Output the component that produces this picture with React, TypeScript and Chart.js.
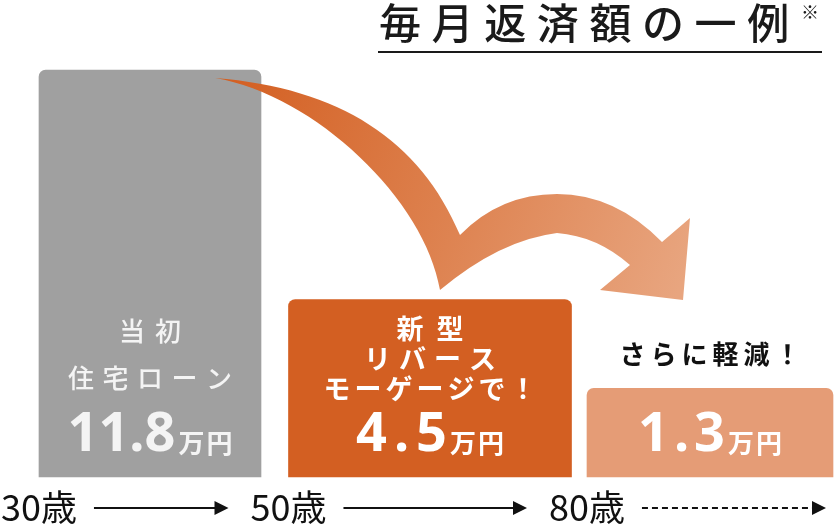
import React, { useEffect, useRef } from "react";
import { Chart, registerables } from "chart.js";

Chart.register(...registerables);

// ---- data ----
const ageLabels = ["30歳", "50歳", "80歳"];
const paymentValues = [11.8, 4.5, 1.3]; // 万円 / 月
const barHeights = [100, 43.6, 21.8]; // drawn bar height, % of the first bar (graphic is not to scale)
const captionLines = [["当初", "住宅ローン"], ["新型", "リバース", "モーゲージで！"], []];
const noteAbove = ["", "", "さらに軽減！"];
const unitLabel = "万円";
const titleText = "毎月返済額の一例";
const titleMark = "※";

// ---- styles ----
const JP = "'Noto Sans CJK JP', 'Noto Sans', sans-serif";
const NUM = "'Noto Sans', 'Noto Sans CJK JP', sans-serif";
const barColors = ["#a0a0a0", "#d35f22", "#e59c76"];
const barWidths = [222, 283, 246];
const captionStyle = [
  { size: 26, weight: 500, color: "#f4f4f4", gap: 47, bottom: 99, spacing: [10, 8.5] },
  { size: 27, weight: 700, color: "#ffffff", gap: 30, bottom: 88, spacing: [13, 8, 4] },
  { size: 27, weight: 700, color: "#ffffff", gap: 30, bottom: 88, spacing: [] },
];
const numberSpacing = [0, 7, 5];
const valueColors = ["#f4f4f4", "#ffffff", "#ffffff"];

function spacedWidth(ctx: CanvasRenderingContext2D, text: string, sp: number) {
  const chars = Array.from(text);
  let w = 0;
  for (const ch of chars) w += ctx.measureText(ch).width;
  return w + sp * (chars.length - 1);
}

function drawSpaced(
  ctx: CanvasRenderingContext2D,
  text: string,
  x: number,
  y: number,
  sp: number,
  align: "left" | "center" | "right"
) {
  const w = spacedWidth(ctx, text, sp);
  let cx = align === "center" ? x - w / 2 : align === "right" ? x - w : x;
  ctx.textAlign = "left";
  for (const ch of Array.from(text)) {
    ctx.fillText(ch, cx, y);
    cx += ctx.measureText(ch).width + sp;
  }
  return w;
}

function drawBigArrow(ctx: CanvasRenderingContext2D) {
  const g = ctx.createLinearGradient(215, 78, 690, 260);
  g.addColorStop(0, "#d35e20");
  g.addColorStop(0.5, "#dd804d");
  g.addColorStop(1, "#e8a57f");
  ctx.save();
  ctx.fillStyle = g;
  ctx.beginPath();
  ctx.moveTo(215, 78);
  ctx.bezierCurveTo(340, 88, 420, 140, 460, 235);
  ctx.quadraticCurveTo(500, 194, 557, 194);
  ctx.quadraticCurveTo(615, 194, 662, 242);
  ctx.lineTo(690, 218);
  ctx.lineTo(683, 300);
  ctx.lineTo(600, 290);
  ctx.lineTo(630, 265);
  ctx.quadraticCurveTo(597, 236, 557, 233);
  ctx.quadraticCurveTo(500, 240, 440, 290);
  ctx.bezierCurveTo(425, 200, 315, 95, 215, 78);
  ctx.closePath();
  ctx.fill();
  ctx.restore();
}

function drawAxisArrow(ctx: CanvasRenderingContext2D, x0: number, x1: number, y: number, dashed: boolean) {
  ctx.save();
  ctx.strokeStyle = "#111";
  ctx.fillStyle = "#111";
  ctx.lineWidth = 2;
  if (dashed) ctx.setLineDash([6, 4]);
  ctx.beginPath();
  ctx.moveTo(x0, y);
  ctx.lineTo(x1 - 12, y);
  ctx.stroke();
  ctx.setLineDash([]);
  ctx.beginPath();
  ctx.moveTo(x1, y);
  ctx.lineTo(x1 - 14, y - 7);
  ctx.lineTo(x1 - 14, y + 7);
  ctx.closePath();
  ctx.fill();
  ctx.restore();
}

const decor = {
  id: "decor",
  afterDatasetsDraw(chart: any) {
    const ctx: CanvasRenderingContext2D = chart.ctx;
    const bars = barHeights.map((_, i) => chart.getDatasetMeta(i).data[i] as any);

    drawBigArrow(ctx);

    ctx.save();
    ctx.textBaseline = "middle";
    bars.forEach((bar, i) => {
      const st = captionStyle[i];
      const lines = captionLines[i];
      ctx.fillStyle = st.color;
      ctx.font = `${st.weight} ${st.size}px ${JP}`;
      lines.forEach((line, k) => {
        const y = bar.base - st.bottom - (lines.length - 1 - k) * st.gap;
        drawSpaced(ctx, line, bar.x, y, st.spacing[k] ?? 6, "center");
      });
      if (noteAbove[i]) {
        ctx.fillStyle = "#111";
        ctx.font = `700 26px ${JP}`;
        drawSpaced(ctx, noteAbove[i], bar.x, bar.y - 34, 5, "center");
      }
    });

    // value labels
    ctx.textBaseline = "alphabetic";
    bars.forEach((bar, i) => {
      const num = paymentValues[i].toFixed(1);
      ctx.font = `700 54px ${NUM}`;
      const nw = spacedWidth(ctx, num, numberSpacing[i]);
      ctx.font = `700 26px ${JP}`;
      const uw = spacedWidth(ctx, unitLabel, 2);
      const total = nw + 3 + uw;
      const x0 = bar.x - total / 2;
      const y = bar.base - 26;
      ctx.fillStyle = valueColors[i];
      ctx.font = `700 54px ${NUM}`;
      drawSpaced(ctx, num, x0, y, numberSpacing[i], "left");
      ctx.font = `700 26px ${JP}`;
      drawSpaced(ctx, unitLabel, x0 + nw + 3, y + 2, 2, "left");
    });

    // age axis labels + arrows
    ctx.fillStyle = "#111";
    ctx.font = `400 36px ${JP}`;
    ctx.textBaseline = "middle";
    const labelY = 507;
    const starts = bars.map((bar) => bar.x - bar.width / 2 - 38);
    bars.forEach((bar, i) => {
      const w = drawSpaced(ctx, ageLabels[i], starts[i], labelY, 0, "left");
      const from = starts[i] + w + 17;
      const to = i < bars.length - 1 ? starts[i + 1] - 22 : chart.width - 8;
      drawAxisArrow(ctx, from, to, 508, i === bars.length - 1);
    });

    // title
    ctx.fillStyle = "#1a1a1a";
    ctx.font = `500 42px ${JP}`;
    ctx.textBaseline = "alphabetic";
    drawSpaced(ctx, titleText, 379, 39, 10.6, "left");
    ctx.font = `400 18px ${JP}`;
    ctx.fillText(titleMark, 801, 19);
    ctx.fillRect(378, 51, 444, 2);
    ctx.restore();
  },
};

export default function App() {
  const ref = useRef<HTMLCanvasElement>(null);
  useEffect(() => {
    const canvas = ref.current!;
    const datasets = barHeights.map((h, i) => ({
      label: ageLabels[i],
      data: barHeights.map((v, j) => (j === i ? v : null)),
      backgroundColor: barColors[i],
      barThickness: barWidths[i],
      borderRadius: 7,
      borderSkipped: "bottom" as const,
      grouped: false,
      clip: false as const,
    }));
    const chart = new Chart(canvas, {
      type: "bar",
      data: { labels: ageLabels, datasets },
      options: {
        responsive: false,
        animation: false,
        events: [],
        layout: { padding: { left: 150, right: 124, top: 70, bottom: 47 } },
        scales: {
          x: { display: false, offset: false },
          y: { display: false, min: 0, max: 100 },
        },
        plugins: { legend: { display: false }, tooltip: { enabled: false }, title: { display: false } },
      },
      plugins: [decor],
    });
    return () => chart.destroy();
  }, []);
  return (
    <div style={{ position: "fixed", left: 0, top: 0, width: 834, height: 524, background: "#fff" }}>
      <canvas ref={ref} width={834} height={524} style={{ display: "block", width: 834, height: 524 }} />
    </div>
  );
}
